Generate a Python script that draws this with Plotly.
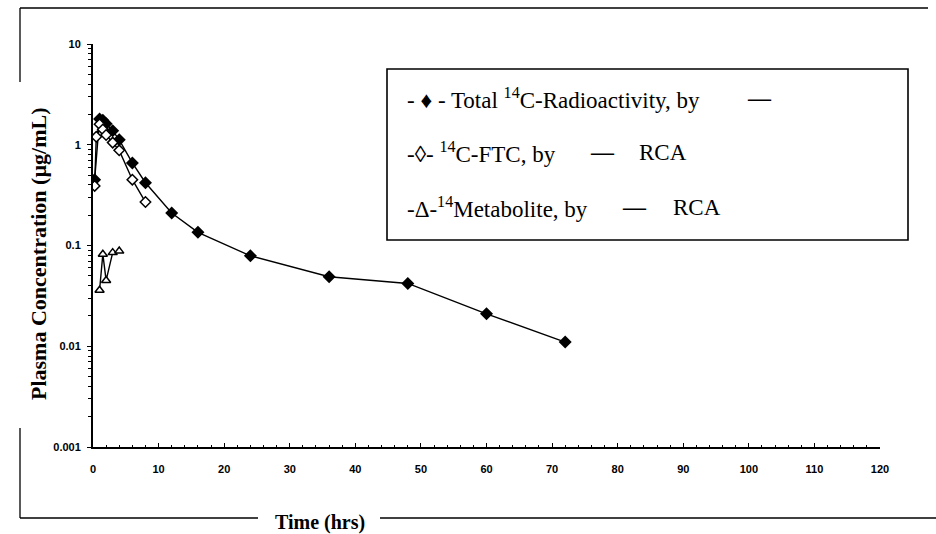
import plotly.graph_objects as go

# Plasma concentration-time data (hours, ug/mL)
total_time = [0.25, 1, 1.5, 2, 3, 4, 6, 8, 12, 16, 24, 36, 48, 60, 72]
total_conc = [0.45, 1.8, 1.75, 1.62, 1.38, 1.12, 0.66, 0.42, 0.21, 0.135, 0.079, 0.049, 0.042, 0.021, 0.011]

ftc_time = [0.25, 0.5, 1, 1.5, 2, 3, 4, 6, 8]
ftc_conc = [0.39, 1.2, 1.6, 1.42, 1.25, 1.05, 0.88, 0.45, 0.27]

met_time = [1, 1.5, 2, 3, 4]
met_conc = [0.036, 0.082, 0.045, 0.085, 0.088]

x_ticks = [0, 10, 20, 30, 40, 50, 60, 70, 80, 90, 100, 110, 120]
y_ticks = [0.001, 0.01, 0.1, 1, 10]
y_tick_text = ["0.001", "0.01", "0.1", "1", "10"]
y_minor = [k * 10.0 ** d for d in range(-3, 1) for k in range(2, 10)]

# plot area in pixels
L, R, T, B = 93, 880, 44, 447
W_FIG, H_FIG = 936, 534


def px(x):
    return (x - L) / (R - L)


def py(y):
    return (B - y) / (B - T)


fig = go.Figure()

line_style = dict(color="black", width=1.4)
fig.add_trace(go.Scatter(x=total_time, y=total_conc, mode="lines+markers",
                         line=line_style,
                         marker=dict(symbol="diamond", size=10, color="black"),
                         name="Total 14C-Radioactivity"))
fig.add_trace(go.Scatter(x=ftc_time, y=ftc_conc, mode="lines+markers",
                         line=line_style,
                         marker=dict(symbol="diamond", size=8, color="white",
                                     line=dict(color="black", width=1.5)),
                         name="14C-FTC"))
fig.add_trace(go.Scatter(x=met_time, y=met_conc, mode="lines+markers",
                         line=line_style,
                         marker=dict(symbol="triangle-up", size=8, color="white",
                                     line=dict(color="black", width=1.5)),
                         name="14Metabolite"))

tick_font = dict(family="Liberation Sans", size=11, color="black", weight="bold")

fig.update_xaxes(range=[0, 120], tickvals=x_ticks, showline=True, linecolor="black",
                 linewidth=1.5, ticks="inside", ticklen=4, tickcolor="black",
                 minor=dict(dtick=2, ticks="inside", ticklen=2, tickcolor="black"),
                 showgrid=False, zeroline=False, tickfont=tick_font,
                 ticklabelstandoff=11)
fig.update_yaxes(type="log", range=[-3, 1], tickvals=y_ticks, ticktext=y_tick_text,
                 showline=True, linecolor="black", linewidth=2, ticks="outside",
                 ticklen=4, tickcolor="black",
                 minor=dict(tickvals=y_minor, ticks="outside", ticklen=3,
                            tickcolor="black", showgrid=False),
                 showgrid=False, zeroline=False, tickfont=tick_font,
                 ticklabelstandoff=4)

serif = "Liberation Serif"
legend_font = dict(family=serif, size=23, color="black")
dash_font = dict(family=serif, size=23, color="black", weight="bold")
annotations = [
    dict(x=px(38), y=py(254), text="Plasma Concentration (µg/mL)", textangle=-90,
         font=dict(family=serif, size=22, color="black", weight="bold")),
    dict(x=px(320), y=py(522), text="Time (hrs)",
         font=dict(family=serif, size=20, color="black", weight="bold")),
    dict(x=px(405), y=py(98), text="- \u2666 - Total <sup>14</sup>C-Radioactivity, by",
         xanchor="left", font=legend_font),
    dict(x=px(745), y=py(98), text="\u2014", xanchor="left", font=dash_font),
    dict(x=px(405), y=py(152), text="-\u25CA- <sup>14</sup>C-FTC, by",
         xanchor="left", font=legend_font),
    dict(x=px(588), y=py(152), text="\u2014", xanchor="left", font=dash_font),
    dict(x=px(637), y=py(152), text="RCA", xanchor="left", font=legend_font),
    dict(x=px(405), y=py(207), text="-\u0394-<sup>14</sup>Metabolite, by",
         xanchor="left", font=legend_font),
    dict(x=px(620), y=py(207), text="\u2014", xanchor="left", font=dash_font),
    dict(x=px(671), y=py(207), text="RCA", xanchor="left", font=legend_font),
]
for a in annotations:
    a.update(xref="paper", yref="paper", showarrow=False)
    a.setdefault("xanchor", "center")
    a.setdefault("yanchor", "middle")

shapes = [
    # legend box
    dict(type="rect", x0=px(387), x1=px(908), y0=py(69), y1=py(240),
         line=dict(color="black", width=1.6)),
    # outer frame pieces
    dict(type="line", x0=px(20), x1=px(928), y0=py(8), y1=py(8)),
    dict(type="line", x0=px(20), x1=px(20), y0=py(8), y1=py(82)),
    dict(type="line", x0=px(20), x1=px(20), y0=py(428), y1=py(518)),
    dict(type="line", x0=px(20), x1=px(258), y0=py(518), y1=py(518)),
    dict(type="line", x0=px(380), x1=px(936), y0=py(518), y1=py(518)),
]
for s in shapes:
    s.update(xref="paper", yref="paper")
    s.setdefault("line", dict(color="black", width=1.3))

fig.update_layout(width=W_FIG, height=H_FIG, showlegend=False,
                  margin=dict(l=L, r=W_FIG - R, t=T, b=H_FIG - B),
                  paper_bgcolor="white", plot_bgcolor="white",
                  annotations=annotations, shapes=shapes)

fig.write_html("out.html")
